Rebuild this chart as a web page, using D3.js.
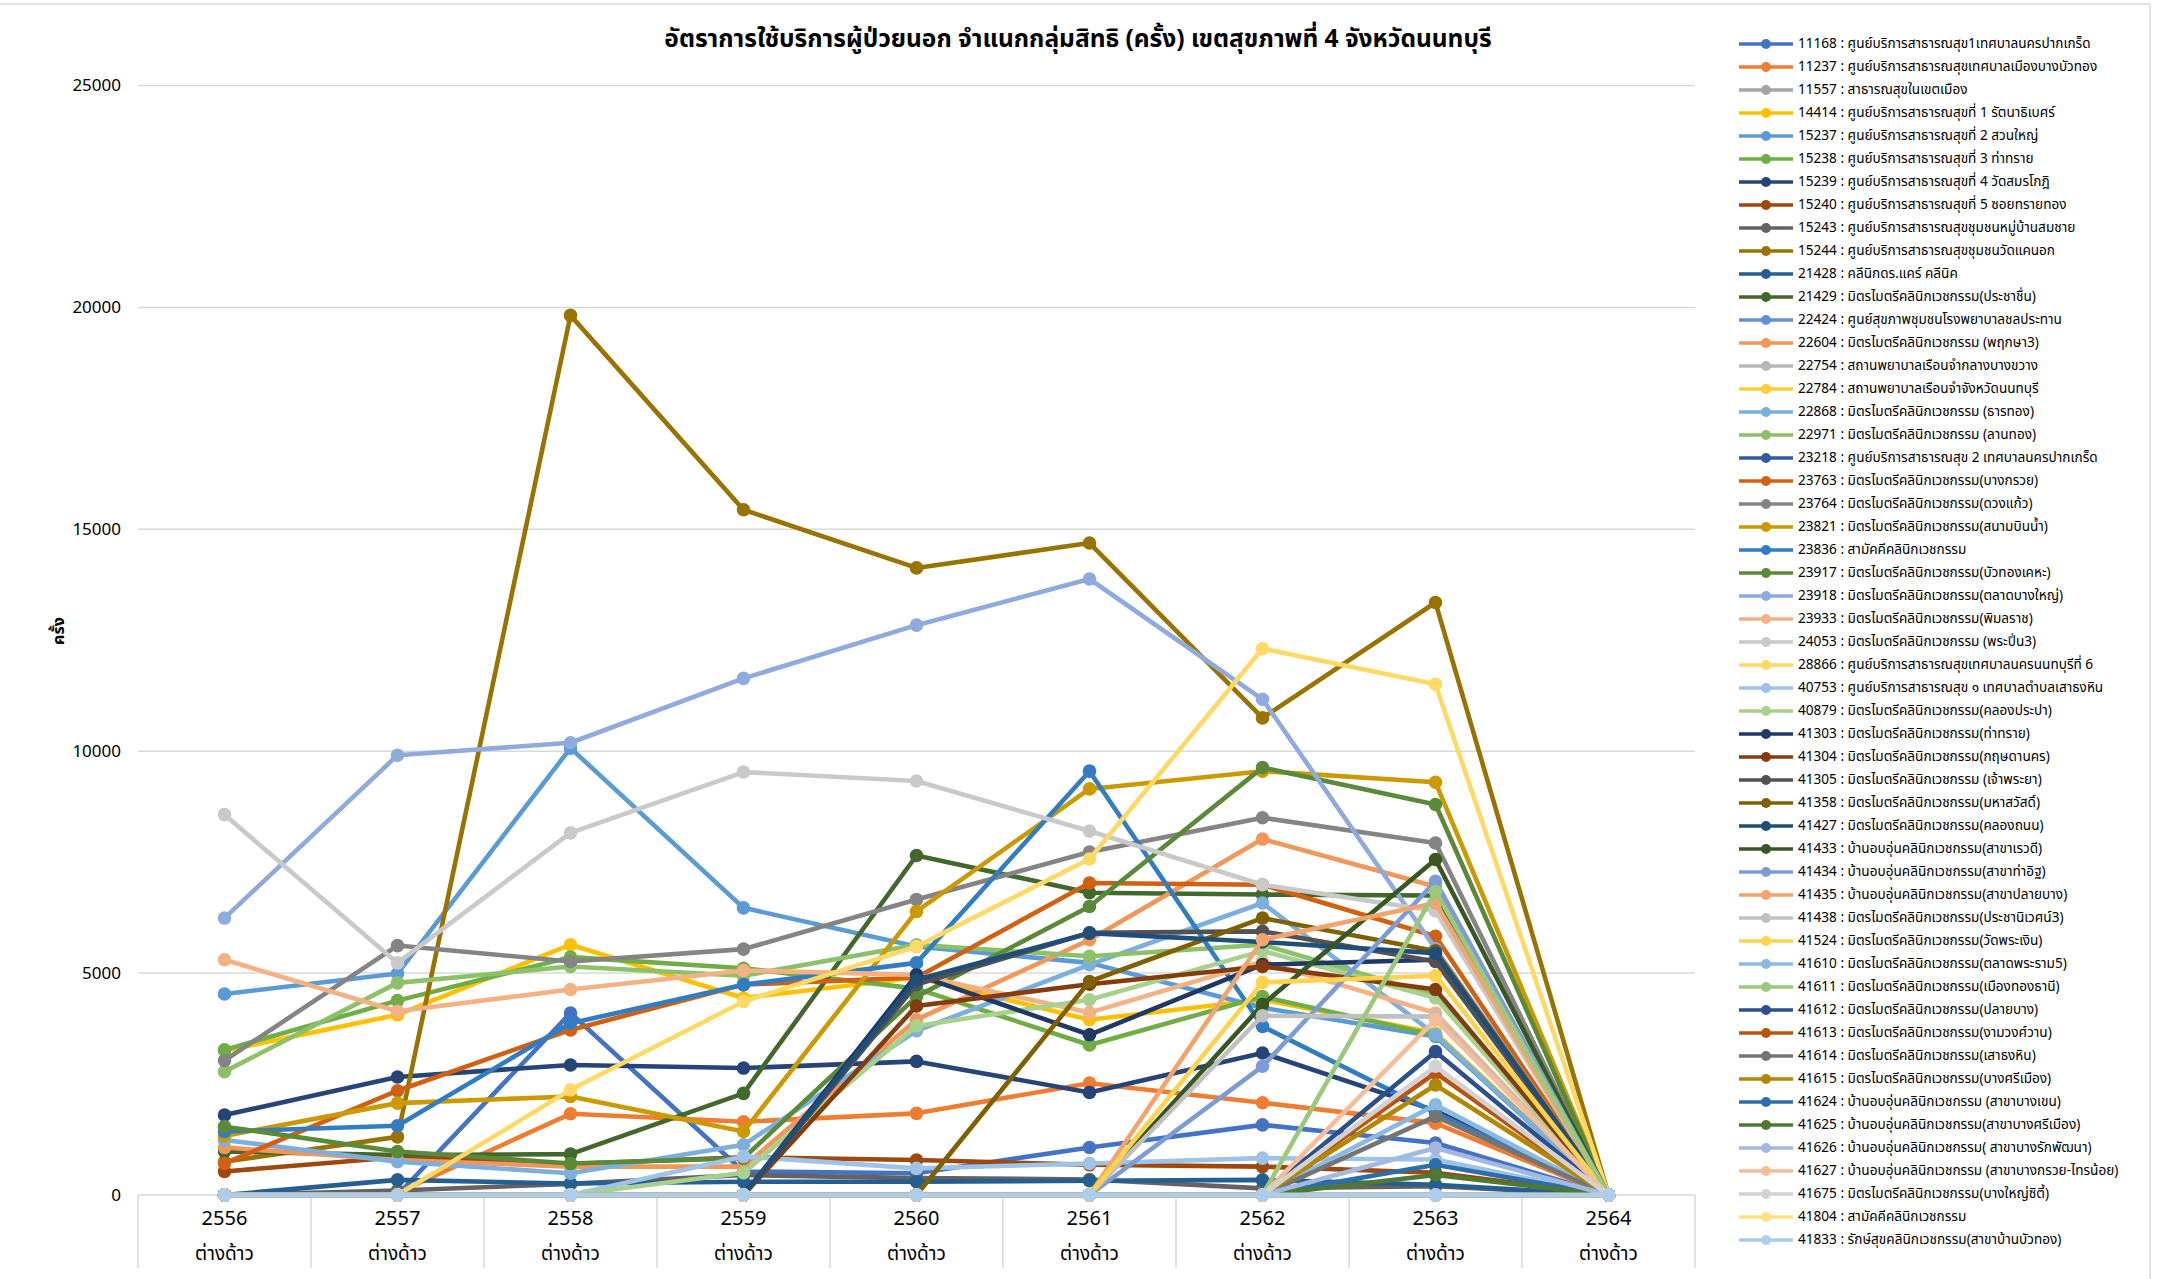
<!DOCTYPE html>
<html><head><meta charset="utf-8">
<script src="https://cdn.jsdelivr.net/npm/d3@7/dist/d3.min.js"></script>
<style>
html,body{margin:0;padding:0;background:#fff;}
svg{display:block;}
text{font-family:"Noto Sans Thai","Tahoma","Noto Sans","DejaVu Sans",sans-serif;fill:#000;}
</style></head><body>
<svg id="c" width="2161" height="1279"></svg>
<script>
const years = ["2556","2557","2558","2559","2560","2561","2562","2563","2564"];
const subLabel = "ต่างด้าว";
const yTicks = [0,5000,10000,15000,20000,25000];
const titleText = "อัตราการใช้บริการผู้ป่วยนอก จำแนกกลุ่มสิทธิ (ครั้ง) เขตสุขภาพที่ 4 จังหวัดนนทบุรี";
const yTitle = "ครั้ง";

const seriesNames = [
"11168 : ศูนย์บริการสาธารณสุข1เทศบาลนครปากเกร็ด",
"11237 : ศูนย์บริการสาธารณสุขเทศบาลเมืองบางบัวทอง",
"11557 : สาธารณสุขในเขตเมือง",
"14414 : ศูนย์บริการสาธารณสุขที่ 1 รัตนาธิเบศร์",
"15237 : ศูนย์บริการสาธารณสุขที่ 2 สวนใหญ่",
"15238 : ศูนย์บริการสาธารณสุขที่ 3 ท่าทราย",
"15239 : ศูนย์บริการสาธารณสุขที่ 4 วัดสมรโกฎิ",
"15240 : ศูนย์บริการสาธารณสุขที่ 5 ซอยทรายทอง",
"15243 : ศูนย์บริการสาธารณสุขชุมชนหมู่บ้านสมชาย",
"15244 : ศูนย์บริการสาธารณสุขชุมชนวัดแคนอก",
"21428 : คลีนิกดร.แคร์ คลีนิค",
"21429 : มิตรไมตรีคลินิกเวชกรรม(ประชาชื่น)",
"22424 : ศูนย์สุขภาพชุมชนโรงพยาบาลชลประทาน",
"22604 : มิตรไมตรีคลินิกเวชกรรม (พฤกษา3)",
"22754 : สถานพยาบาลเรือนจำกลางบางขวาง",
"22784 : สถานพยาบาลเรือนจำจังหวัดนนทบุรี",
"22868 : มิตรไมตรีคลินิกเวชกรรม (ธารทอง)",
"22971 : มิตรไมตรีคลินิกเวชกรรม (ลานทอง)",
"23218 : ศูนย์บริการสาธารณสุข 2 เทศบาลนครปากเกร็ด",
"23763 : มิตรไมตรีคลินิกเวชกรรม(บางกรวย)",
"23764 : มิตรไมตรีคลินิกเวชกรรม(ดวงแก้ว)",
"23821 : มิตรไมตรีคลินิกเวชกรรม(สนามบินน้ำ)",
"23836 : สามัคคีคลินิกเวชกรรม",
"23917 : มิตรไมตรีคลินิกเวชกรรม(บัวทองเคหะ)",
"23918 : มิตรไมตรีคลินิกเวชกรรม(ตลาดบางใหญ่)",
"23933 : มิตรไมตรีคลินิกเวชกรรม(พิมลราช)",
"24053 : มิตรไมตรีคลินิกเวชกรรม (พระปิ่น3)",
"28866 : ศูนย์บริการสาธารณสุขเทศบาลนครนนทบุรีที่ 6",
"40753 : ศูนย์บริการสาธารณสุข ๑ เทศบาลตำบลเสาธงหิน",
"40879 : มิตรไมตรีคลินิกเวชกรรม(คลองประปา)",
"41303 : มิตรไมตรีคลินิกเวชกรรม(ท่าทราย)",
"41304 : มิตรไมตรีคลินิกเวชกรรม(กฤษดานคร)",
"41305 : มิตรไมตรีคลินิกเวชกรรม (เจ้าพระยา)",
"41358 : มิตรไมตรีคลินิกเวชกรรม(มหาสวัสดิ์)",
"41427 : มิตรไมตรีคลินิกเวชกรรม(คลองถนน)",
"41433 : บ้านอบอุ่นคลินิกเวชกรรม(สาขาเรวดี)",
"41434 : บ้านอบอุ่นคลินิกเวชกรรม(สาขาท่าอิฐ)",
"41435 : บ้านอบอุ่นคลินิกเวชกรรม(สาขาปลายบาง)",
"41438 : มิตรไมตรีคลินิกเวชกรรม(ประชานิเวศน์3)",
"41524 : มิตรไมตรีคลินิกเวชกรรม(วัดพระเงิน)",
"41610 : มิตรไมตรีคลินิกเวชกรรม(ตลาดพระราม5)",
"41611 : มิตรไมตรีคลินิกเวชกรรม(เมืองทองธานี)",
"41612 : มิตรไมตรีคลินิกเวชกรรม(ปลายบาง)",
"41613 : มิตรไมตรีคลินิกเวชกรรม(งามวงศ์วาน)",
"41614 : มิตรไมตรีคลินิกเวชกรรม(เสาธงหิน)",
"41615 : มิตรไมตรีคลินิกเวชกรรม(บางศรีเมือง)",
"41624 : บ้านอบอุ่นคลินิกเวชกรรม (สาขาบางเขน)",
"41625 : บ้านอบอุ่นคลินิกเวชกรรม(สาขาบางศรีเมือง)",
"41626 : บ้านอบอุ่นคลินิกเวชกรรม( สาขาบางรักพัฒนา)",
"41627 : บ้านอบอุ่นคลินิกเวชกรรม (สาขาบางกรวย-ไทรน้อย)",
"41675 : มิตรไมตรีคลินิกเวชกรรม(บางใหญ่ซิตี้)",
"41804 : สามัคคีคลินิกเวชกรรม",
"41833 : รักษ์สุขคลินิกเวชกรรม(สาขาบ้านบัวทอง)"
];

const seriesValues = [
[0,0,4100,530,490,1070,1580,1170,0],
[0,50,1830,1650,1840,2520,2080,1620,0],
[0,0,0,0,0,0,0,0,0],
[3250,4060,5640,4440,4900,3950,4400,3650,0],
[4530,4990,10070,6470,5600,5230,4220,3570,0],
[3270,4380,5360,5110,4650,3380,4470,3600,0],
[1800,2660,2930,2860,3010,2310,3200,1900,0],
[530,850,700,850,790,680,640,500,0],
[0,100,250,450,380,350,150,200,0],
[750,1310,19820,15440,14130,14690,10750,13350,0],
[0,340,260,300,300,320,340,230,0],
[980,900,920,2290,7650,6810,6770,6750,0],
[0,0,0,0,0,0,0,0,0],
[1070,790,640,640,3950,5750,8020,6950,0],
[0,0,0,0,0,0,0,0,0],
[0,0,0,0,0,0,0,0,0],
[1240,750,490,1130,3700,5190,6580,3610,0],
[2780,4780,5150,4940,5640,5380,5640,4500,0],
[0,0,0,0,0,0,0,0,0],
[710,2350,3720,4740,4900,7030,6990,5830,0],
[3030,5620,5260,5540,6660,7730,8500,7930,0],
[1330,2070,2220,1430,6390,9150,9550,9300,0],
[1430,1560,3870,4740,5230,9550,3800,1850,0],
[1540,980,710,830,4470,6500,9630,8800,0],
[6240,9910,10190,11640,12840,13880,11170,5550,0],
[5300,4140,4630,5060,4960,4110,5260,4100,0],
[8570,5230,8160,9530,9330,8200,6990,6400,0],
[0,0,2370,4360,5600,7570,12310,11510,0],
[0,0,0,870,600,710,830,800,0],
[0,0,0,500,3810,4400,5500,4440,0],
[0,0,0,0,4960,3610,5190,5300,0],
[0,0,0,0,4260,4750,5150,4630,0],
[0,0,0,0,4740,5910,5940,5260,0],
[0,0,0,0,0,4810,6240,5500,0],
[0,0,0,0,4850,5900,5700,5450,0],
[0,0,0,0,0,0,4290,7560,0],
[0,0,0,0,0,0,2900,7070,0],
[0,0,0,0,0,0,5750,6580,0],
[0,0,0,0,0,0,4040,4020,0],
[0,0,0,0,0,0,4790,4940,0],
[0,0,0,0,0,0,0,2030,0],
[0,0,0,0,0,0,0,6840,0],
[0,0,0,0,0,0,0,3230,0],
[0,0,0,0,0,0,0,2750,0],
[0,0,0,0,0,0,0,1770,0],
[0,0,0,0,0,0,0,2480,0],
[0,0,0,0,0,0,0,680,0],
[0,0,0,0,0,0,0,450,0],
[0,0,0,0,0,0,0,1060,0],
[0,0,0,0,0,0,0,3950,0],
[0,0,0,0,0,0,0,2900,0],
[0,0,0,0,0,0,0,0,0],
[0,0,0,0,0,0,0,0,0]
];

const palette = [
"#4472C4","#ED7D31","#A5A5A5","#FFC000","#5B9BD5","#70AD47",
"#264478","#9E480E","#636363","#997300","#255E91","#43682B",
"#698ED0","#F1975A","#B7B7B7","#FFCD33","#7CAFDD","#8CC168",
"#335AA1","#D26012","#848484","#CC9A00","#327DC2","#5A8A39",
"#8FAADC","#F4B183","#C9C9C9","#FFD966","#9DC3E6","#A9D18E",
"#203864","#843C0C","#525252","#7F6000","#1F4E79","#385723",
"#7C9CD6","#F2A46F","#C0C0C0","#FFD34D","#8CB9E2","#9AC97B",
"#2C4F8D","#B85410","#747474","#B38600","#2B6EA9","#4E7932",
"#A2B9E2","#F6BE98","#D2D2D2","#FFE080","#ADCDEA"
];

const svg = d3.select("#c");
const W = 2161, H = 1279;
const plot = {left:138, right:1695, top:85.5, bottom:1195};

svg.append("rect").attr("x",-2).attr("y",4).attr("width",2152).attr("height",H+10)
  .attr("fill","none").attr("stroke","#d9d9d9").attr("stroke-width",1.5);

const x = d3.scaleBand().domain(years).range([plot.left, plot.right]).padding(0);
const y = d3.scaleLinear().domain([0,25000]).range([plot.bottom, plot.top]);
const cx = d => x(d) + x.bandwidth()/2;

svg.append("g").selectAll("line").data(yTicks).join("line")
  .attr("x1",plot.left).attr("x2",plot.right)
  .attr("y1",d=>y(d)).attr("y2",d=>y(d))
  .attr("stroke","#d9d9d9").attr("stroke-width",1.5);

const yAxis = d3.axisLeft(y).tickValues(yTicks).tickSize(0).tickPadding(17).tickFormat(d3.format("d"));
const gy = svg.append("g").attr("transform",`translate(${plot.left},0)`).call(yAxis);
gy.select(".domain").remove();
gy.selectAll("text").attr("font-size",17).attr("fill","#000")
  .style("font-family","'Liberation Sans Narrow','Noto Sans',sans-serif");

const edges = years.map(d=>x(d)).concat([plot.right]);
svg.append("g").selectAll("line").data(edges).join("line")
  .attr("x1",d=>d).attr("x2",d=>d).attr("y1",plot.bottom).attr("y2",1268)
  .attr("stroke","#d9d9d9").attr("stroke-width",1.5);

const gx = svg.append("g");
gx.selectAll("text.yr").data(years).join("text").attr("class","yr")
  .attr("x",d=>cx(d)).attr("y",1219).attr("text-anchor","middle").attr("dominant-baseline","middle")
  .attr("font-size",20).text(d=>d);
gx.selectAll("text.sub").data(years).join("text").attr("class","sub")
  .attr("x",d=>cx(d)).attr("y",1255).attr("text-anchor","middle").attr("dominant-baseline","middle")
  .attr("font-size",19).text(subLabel);

svg.append("text").attr("x",1078).attr("y",40).attr("text-anchor","middle").attr("dominant-baseline","middle")
  .attr("font-size",24.5).attr("font-weight","bold").text(titleText);

svg.append("text").attr("transform","translate(60,631) rotate(-90)").attr("text-anchor","middle")
  .attr("dominant-baseline","middle").attr("font-size",16).attr("font-weight","bold").text(yTitle);

const line = d3.line().x((d,i)=>cx(years[i])).y(d=>y(d));
const gs = svg.append("g");
seriesValues.forEach((vals,si)=>{
  const g = gs.append("g");
  const col = palette[si];
  g.append("path").attr("d",line(vals)).attr("fill","none").attr("stroke",col)
    .attr("stroke-width",4.6).attr("stroke-linejoin","round").attr("stroke-linecap","round");
  g.selectAll("circle").data(vals).join("circle")
    .attr("cx",(d,i)=>cx(years[i])).attr("cy",d=>y(d)).attr("r",6.8).attr("fill",col);
});

const lg = svg.append("g");
seriesNames.forEach((nm,i)=>{
  const yy = 44 + i*23;
  lg.append("line").attr("x1",1739).attr("x2",1793).attr("y1",yy).attr("y2",yy)
    .attr("stroke",palette[i]).attr("stroke-width",3.5);
  lg.append("circle").attr("cx",1766).attr("cy",yy).attr("r",5).attr("fill",palette[i]);
  lg.append("text").attr("x",1798).attr("y",yy).attr("dominant-baseline","middle")
    .attr("font-size",13.6).text(nm);
});
</script>
</body></html>
